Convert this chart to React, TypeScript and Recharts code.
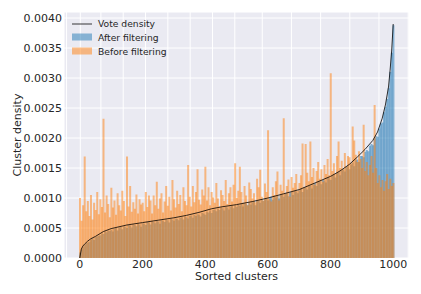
import React from 'react';
import { ComposedChart, Bar, Line, XAxis, YAxis, CartesianGrid } from 'recharts';

// cluster bins (sorted clusters, binned by 5); values are in units of 1e-5
const clusters: number[] = Array.from({ length: 201 }, (_, i) => i * 5);

const afterFiltering: number[] = [
  9, 14, 18, 22, 25, 26, 27, 31, 33, 30, 35, 36, 37, 38, 41, 40, 44, 43, 46, 45,
  47, 44, 49, 50, 46, 51, 52, 48, 53, 52, 50, 55, 54, 51, 56, 55, 53, 57, 56, 52,
  58, 57, 55, 60, 59, 56, 61, 60, 58, 62, 61, 57, 63, 62, 60, 64, 63, 59, 65, 64,
  62, 66, 65, 63, 67, 68, 64, 69, 68, 66, 70, 71, 67, 72, 70, 73, 72, 69, 75, 74,
  72, 77, 76, 79, 75, 80, 81, 78, 82, 80, 84, 83, 79, 85, 84, 81, 86, 87, 83, 88,
  85, 89, 87, 90, 86, 91, 90, 88, 92, 89, 93, 94, 88, 95, 96, 92, 97, 95, 98, 99,
  96, 100, 102, 97, 103, 101, 104, 99, 105, 106, 102, 107, 108, 103, 109, 110, 105, 112, 111, 108,
  113, 115, 110, 117, 118, 114, 120, 121, 116, 123, 125, 120, 127, 128, 123, 130, 129, 126, 134, 133,
  130, 137, 139, 134, 142, 143, 138, 146, 148, 144, 152, 153, 148, 156, 159, 153, 163, 164, 160, 170,
  170, 168, 177, 180, 178, 187, 190, 188, 199, 203, 202, 216, 224, 226, 243, 252, 265, 283, 310, 342,
  388,
];

const beforeFiltering: number[] = [
  100, 62, 88, 169, 78, 95, 70, 105, 64, 92, 80, 110, 73, 98, 85, 232, 76, 104, 90, 68,
  117, 84, 96, 72, 108, 88, 79, 112, 95, 70, 169, 86, 120, 77, 93, 82, 106, 74, 98, 89,
  92, 78, 110, 85, 104, 96, 74, 104, 88, 127, 82, 99, 108, 76, 94, 120, 87, 102, 79, 130,
  98, 84, 112, 90, 105, 78, 118, 95, 88, 155, 102, 86, 120, 93, 110, 148, 97, 89, 114, 104,
  152, 96, 118, 88, 110, 101, 92, 125, 99, 86, 113, 105, 95, 130, 90, 108, 118, 94, 122, 158,
  100, 112, 152, 110, 92, 120, 104, 88, 126, 115, 99, 108, 93, 132, 118, 147, 102, 96, 124, 110,
  213, 98, 94, 118, 105, 128, 144, 96, 122, 112, 233, 108, 120, 131, 102, 135, 117, 125, 140, 112,
  125, 138, 191, 118, 190, 142, 128, 194, 135, 150, 122, 145, 160, 132, 148, 127, 155, 140, 165, 138,
  308, 145, 158, 140, 170, 194, 150, 162, 148, 175, 152, 170, 168, 158, 219, 196, 172, 160, 178, 165,
  150, 222, 145, 160, 138, 155, 170, 142, 255, 150, 125, 138, 118, 130, 112, 128, 140, 115, 132, 120,
  125,
];

// vote density curve, read at a few clusters
const voteClusters: number[] = [
  0, 5, 10, 15, 25, 35, 50, 75, 100, 125, 150, 200, 250, 300, 340, 380, 420, 450, 500, 550,
  600, 650, 700, 750, 800, 830, 860, 885, 910, 935, 950, 965, 975, 985, 990, 995, 1000,
];
const voteDensity: number[] = [
  0, 15, 20, 23, 28, 32, 36, 44, 49, 52, 55, 59, 63, 67, 71, 76, 82, 85, 89, 94,
  100, 107, 114, 125, 136, 145, 156, 168, 181, 196, 210, 233, 255, 285, 313, 345, 390,
];

const yTicks = [0, 50, 100, 150, 200, 250, 300, 350, 400];
const xTicks = [0, 200, 400, 600, 800, 1000];

const data = clusters.map((c, i) => {
  const vi = voteClusters.indexOf(c);
  return {
    cluster: c,
    after: afterFiltering[i],
    before: beforeFiltering[i],
    vote: vi >= 0 ? voteDensity[vi] : null,
  };
});

const FONT = "'DejaVu Sans', sans-serif";
const TEXT = '#262626';
const BLUE = '#1f77b4';
const ORANGE = '#ff7f0e';

const App: React.FC = () => {
  const tickStyle = { fontSize: 11, fill: TEXT, fontFamily: FONT };
  return (
    <div style={{ position: 'absolute', left: 0, top: 0, width: 421, height: 294, background: '#fff' }}>
      <ComposedChart
        width={421}
        height={294}
        data={data}
        margin={{ top: 12, right: 12, left: 0, bottom: 0 }}
        barCategoryGap={0}
        barGap={0}
      >
        <CartesianGrid stroke="#ffffff" strokeWidth={1} fill="#eaeaf2" fillOpacity={1} />
        <XAxis
          xAxisId="a"
          dataKey="cluster"
          type="category"
          ticks={xTicks}
          interval={0}
          height={36}
          padding={{ left: 15, right: 15 }}
          axisLine={false}
          tickLine={false}
          tickSize={0}
          tickMargin={2}
          tick={tickStyle}
          label={{ value: 'Sorted clusters', position: 'insideBottom', offset: 14, style: { fontSize: 11, fill: TEXT, fontFamily: FONT } }}
        />
        <XAxis xAxisId="b" dataKey="cluster" type="category" hide padding={{ left: 15, right: 15 }} />
        <YAxis
          width={64}
          domain={[0, 410]}
          ticks={yTicks}
          allowDataOverflow
          axisLine={false}
          tickLine={false}
          tickSize={0}
          tickMargin={2}
          tick={tickStyle}
          tickFormatter={(v: number) => (v / 100000).toFixed(4)}
          label={{
            value: 'Cluster density',
            angle: -90,
            position: 'insideLeft',
            offset: 17,
            style: { fontSize: 11, fill: TEXT, fontFamily: FONT, textAnchor: 'middle' },
          }}
        />
        <Bar xAxisId="a" dataKey="after" fill={BLUE} fillOpacity={0.5} isAnimationActive={false} />
        <Bar xAxisId="b" dataKey="before" fill={ORANGE} fillOpacity={0.5} isAnimationActive={false} />
        <Line
          xAxisId="a"
          dataKey="vote"
          type="linear"
          stroke="#000"
          strokeOpacity={0.8}
          strokeWidth={1}
          dot={false}
          connectNulls
          isAnimationActive={false}
        />
      </ComposedChart>
      <svg width={140} height={60} style={{ position: 'absolute', left: 66, top: 14 }}>
        <g fontFamily={FONT} fontSize={9.2} fill={TEXT}>
          <line x1={6} x2={26} y1={10} y2={10} stroke="#000" strokeOpacity={0.6} strokeWidth={1.3} />
          <text x={32} y={13.3}>Vote density</text>
          <rect x={6} y={19.5} width={20} height={7} fill={BLUE} fillOpacity={0.5} />
          <text x={32} y={26.8}>After filtering</text>
          <rect x={6} y={33.5} width={20} height={7} fill={ORANGE} fillOpacity={0.5} />
          <text x={32} y={40.6}>Before filtering</text>
        </g>
      </svg>
    </div>
  );
};

export default App;
